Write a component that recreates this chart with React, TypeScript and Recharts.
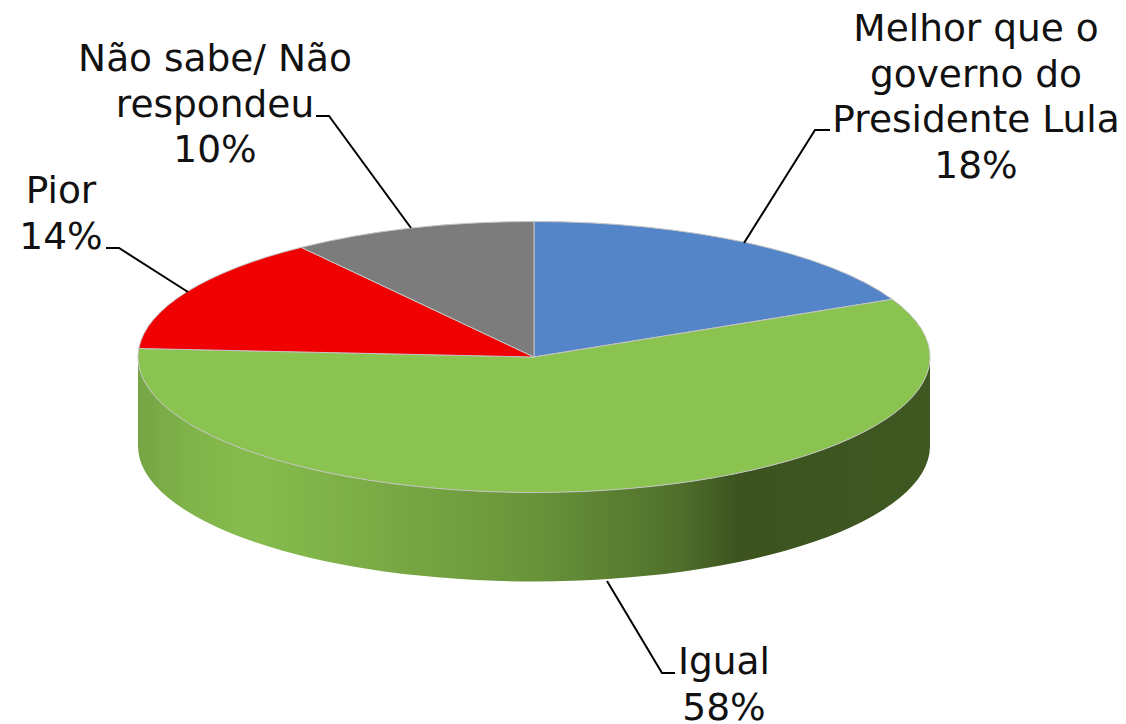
import { Pie, PieChart } from "recharts";

const CATEGORIES = ["Melhor que o governo do Presidente Lula", "Igual", "Pior", "Não sabe/ Não respondeu"];
const VALUES = [18, 58, 14, 10];
const LABEL_LINES = [
  ["Melhor que o", "governo do", "Presidente Lula"],
  ["Igual"],
  ["Pior"],
  ["Não sabe/ Não", "respondeu"],
];
const COLORS = ["#5585C9", "#8AC34F", "#F00000", "#7C7C7C"];

const data = CATEGORIES.map((name, i) => ({ name, value: VALUES[i], fill: COLORS[i] }));

// pie is flattened by hand, recharts only gives round sectors
const RX = 396;
const RY = 135.5;
const DEPTH = 89;
const RAD = Math.PI / 180;

// label block centre, first baseline, leader line
const LABEL_LAYOUT = [
  { x: 976, y: 41, leader: "744,243 815,130 830,130" },
  { x: 724, y: 674, leader: "607,581 662,673 675,673" },
  { x: 61, y: 203, leader: "188,292 119,248 106,248" },
  { x: 215, y: 71, leader: "411,228 329,116 316,116" },
];

function pt(cx: number, cy: number, a: number) {
  return [cx + RX * Math.cos(a * RAD), cy - RY * Math.sin(a * RAD)];
}

function FlatSlice(props: any) {
  const { cx, cy, startAngle, endAngle, fill } = props;
  const [x1, y1] = pt(cx, cy, startAngle);
  const [x2, y2] = pt(cx, cy, endAngle);
  const large = Math.abs(startAngle - endAngle) > 180 ? 1 : 0;
  const top = `M${cx},${cy} L${x1},${y1} A${RX},${RY} 0 ${large} 1 ${x2},${y2} Z`;

  // side wall only for the part of the slice facing the front
  const a1 = Math.min(startAngle, 0);
  const a2 = Math.max(endAngle, -180);
  let wall = null;
  if (a1 > a2) {
    const [wx1, wy1] = pt(cx, cy, a1);
    const [wx2, wy2] = pt(cx, cy, a2);
    wall = (
      <path
        d={`M${wx1},${wy1} A${RX},${RY} 0 0 1 ${wx2},${wy2} L${wx2},${wy2 + DEPTH} A${RX},${RY} 0 0 0 ${wx1},${wy1 + DEPTH} Z`}
        fill="url(#wallGrad)"
      />
    );
  }
  return (
    <g>
      {wall}
      <path d={top} fill={fill} stroke="#C4C4C4" strokeWidth={1} strokeLinejoin="round" />
    </g>
  );
}

function SliceLabel(props: any) {
  const { index, value } = props;
  const lay = LABEL_LAYOUT[index];
  const lines = [...LABEL_LINES[index], `${value}%`];
  return (
    <g>
      <polyline points={lay.leader} fill="none" stroke="#000" strokeWidth={2} />
      <text textAnchor="middle" fontFamily="DejaVu Sans" fontSize={37.5} fill="#111">
        {lines.map((l, i) => (
          <tspan key={l} x={lay.x} y={lay.y + i * 45.5}>
            {l}
          </tspan>
        ))}
      </text>
    </g>
  );
}

export default function App() {
  return (
    <div style={{ position: "absolute", left: 0, top: 0, width: 1126, height: 724 }}>
      <PieChart width={1126} height={724} margin={{ top: 0, right: 0, bottom: 0, left: 0 }}>
        <defs>
          <linearGradient id="wallGrad" gradientUnits="userSpaceOnUse" x1="138" y1="0" x2="930" y2="0">
            <stop offset="0%" stopColor="#76A544" />
            <stop offset="8%" stopColor="#82B64B" />
            <stop offset="15%" stopColor="#86BC4D" />
            <stop offset="30%" stopColor="#7AAB45" />
            <stop offset="50%" stopColor="#69943A" />
            <stop offset="68%" stopColor="#50702C" />
            <stop offset="76%" stopColor="#3C531F" />
            <stop offset="100%" stopColor="#3F5821" />
          </linearGradient>
        </defs>
        <Pie
          data={data}
          dataKey="value"
          nameKey="name"
          cx={534}
          cy={357}
          innerRadius={0}
          outerRadius={RX}
          startAngle={90}
          endAngle={-270}
          paddingAngle={0}
          stroke="none"
          shape={FlatSlice}
          label={SliceLabel}
          labelLine={false}
          isAnimationActive={false}
        />
      </PieChart>
    </div>
  );
}
